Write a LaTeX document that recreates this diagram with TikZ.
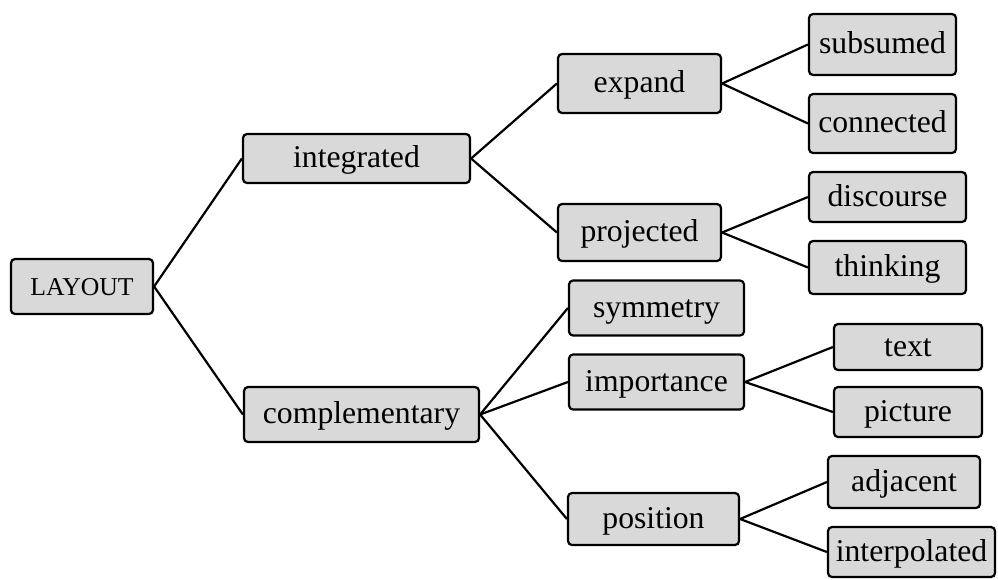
\documentclass[tikz,border=0pt]{standalone}
\usepackage{fontspec}
\setmainfont{Liberation Serif}
\definecolor{boxgray}{HTML}{D9D9D9}
\begin{document}
\begin{tikzpicture}[x=1pt,y=-1pt,
  box/.style={draw, line width=2.2pt, fill=boxgray, rounded corners=4pt,
    inner sep=0pt, text height=22pt, text depth=4pt,
    font=\fontsize{31.7}{36}\selectfont},
  link/.style={line width=2.2pt}]
\useasboundingbox (0,0) rectangle (998,579);

% root
\node[box, minimum width=142pt, minimum height=55pt, font=\fontsize{25.7}{30}\selectfont] (layout) at (82,286.5) {LAYOUT};

% first level
\node[box, minimum width=227pt, minimum height=49pt] (integ) at (356.5,158.5) {integrated};
\node[box, minimum width=235pt, minimum height=55pt] (compl) at (361.5,414.5) {complementary};

% second level
\node[box, minimum width=163pt, minimum height=59pt] (expand) at (639.5,83.5) {expand};
\node[box, minimum width=163pt, minimum height=57pt] (proj) at (639.5,232.5) {projected};
\node[box, minimum width=175pt, minimum height=55pt] (symm) at (656.5,308) {symmetry};
\node[box, minimum width=175pt, minimum height=55pt] (impo) at (656.5,382) {importance};
\node[box, minimum width=171pt, minimum height=52pt] (posi) at (653.5,519) {position};

% leaves
\node[box, minimum width=147pt, minimum height=61pt] (subs) at (882.5,44.5) {subsumed};
\node[box, minimum width=147pt, minimum height=59pt] (conn) at (882.5,123.5) {connected};
\node[box, minimum width=157pt, minimum height=50pt] (disc) at (887.5,197) {discourse};
\node[box, minimum width=157pt, minimum height=53pt] (think) at (887.5,267.5) {thinking};
\node[box, minimum width=148pt, minimum height=46pt] (text) at (908,347) {text};
\node[box, minimum width=148pt, minimum height=50pt] (pict) at (908,412) {picture};
\node[box, minimum width=152pt, minimum height=52pt] (adj) at (904,482) {adjacent};
\node[box, minimum width=167pt, minimum height=50pt] (interp) at (911.5,552) {interpolated};

% connectors
\draw[link] (layout.east) -- (integ.west);
\draw[link] (layout.east) -- (compl.west);
\draw[link] (integ.east) -- (expand.west);
\draw[link] (integ.east) -- (proj.west);
\draw[link] (compl.east) -- (symm.west);
\draw[link] (compl.east) -- (impo.west);
\draw[link] (compl.east) -- (posi.west);
\draw[link] (expand.east) -- (subs.west);
\draw[link] (expand.east) -- (conn.west);
\draw[link] (proj.east) -- (disc.west);
\draw[link] (proj.east) -- (think.west);
\draw[link] (impo.east) -- (text.west);
\draw[link] (impo.east) -- (pict.west);
\draw[link] (posi.east) -- (adj.west);
\draw[link] (posi.east) -- (interp.west);
\end{tikzpicture}
\end{document}
